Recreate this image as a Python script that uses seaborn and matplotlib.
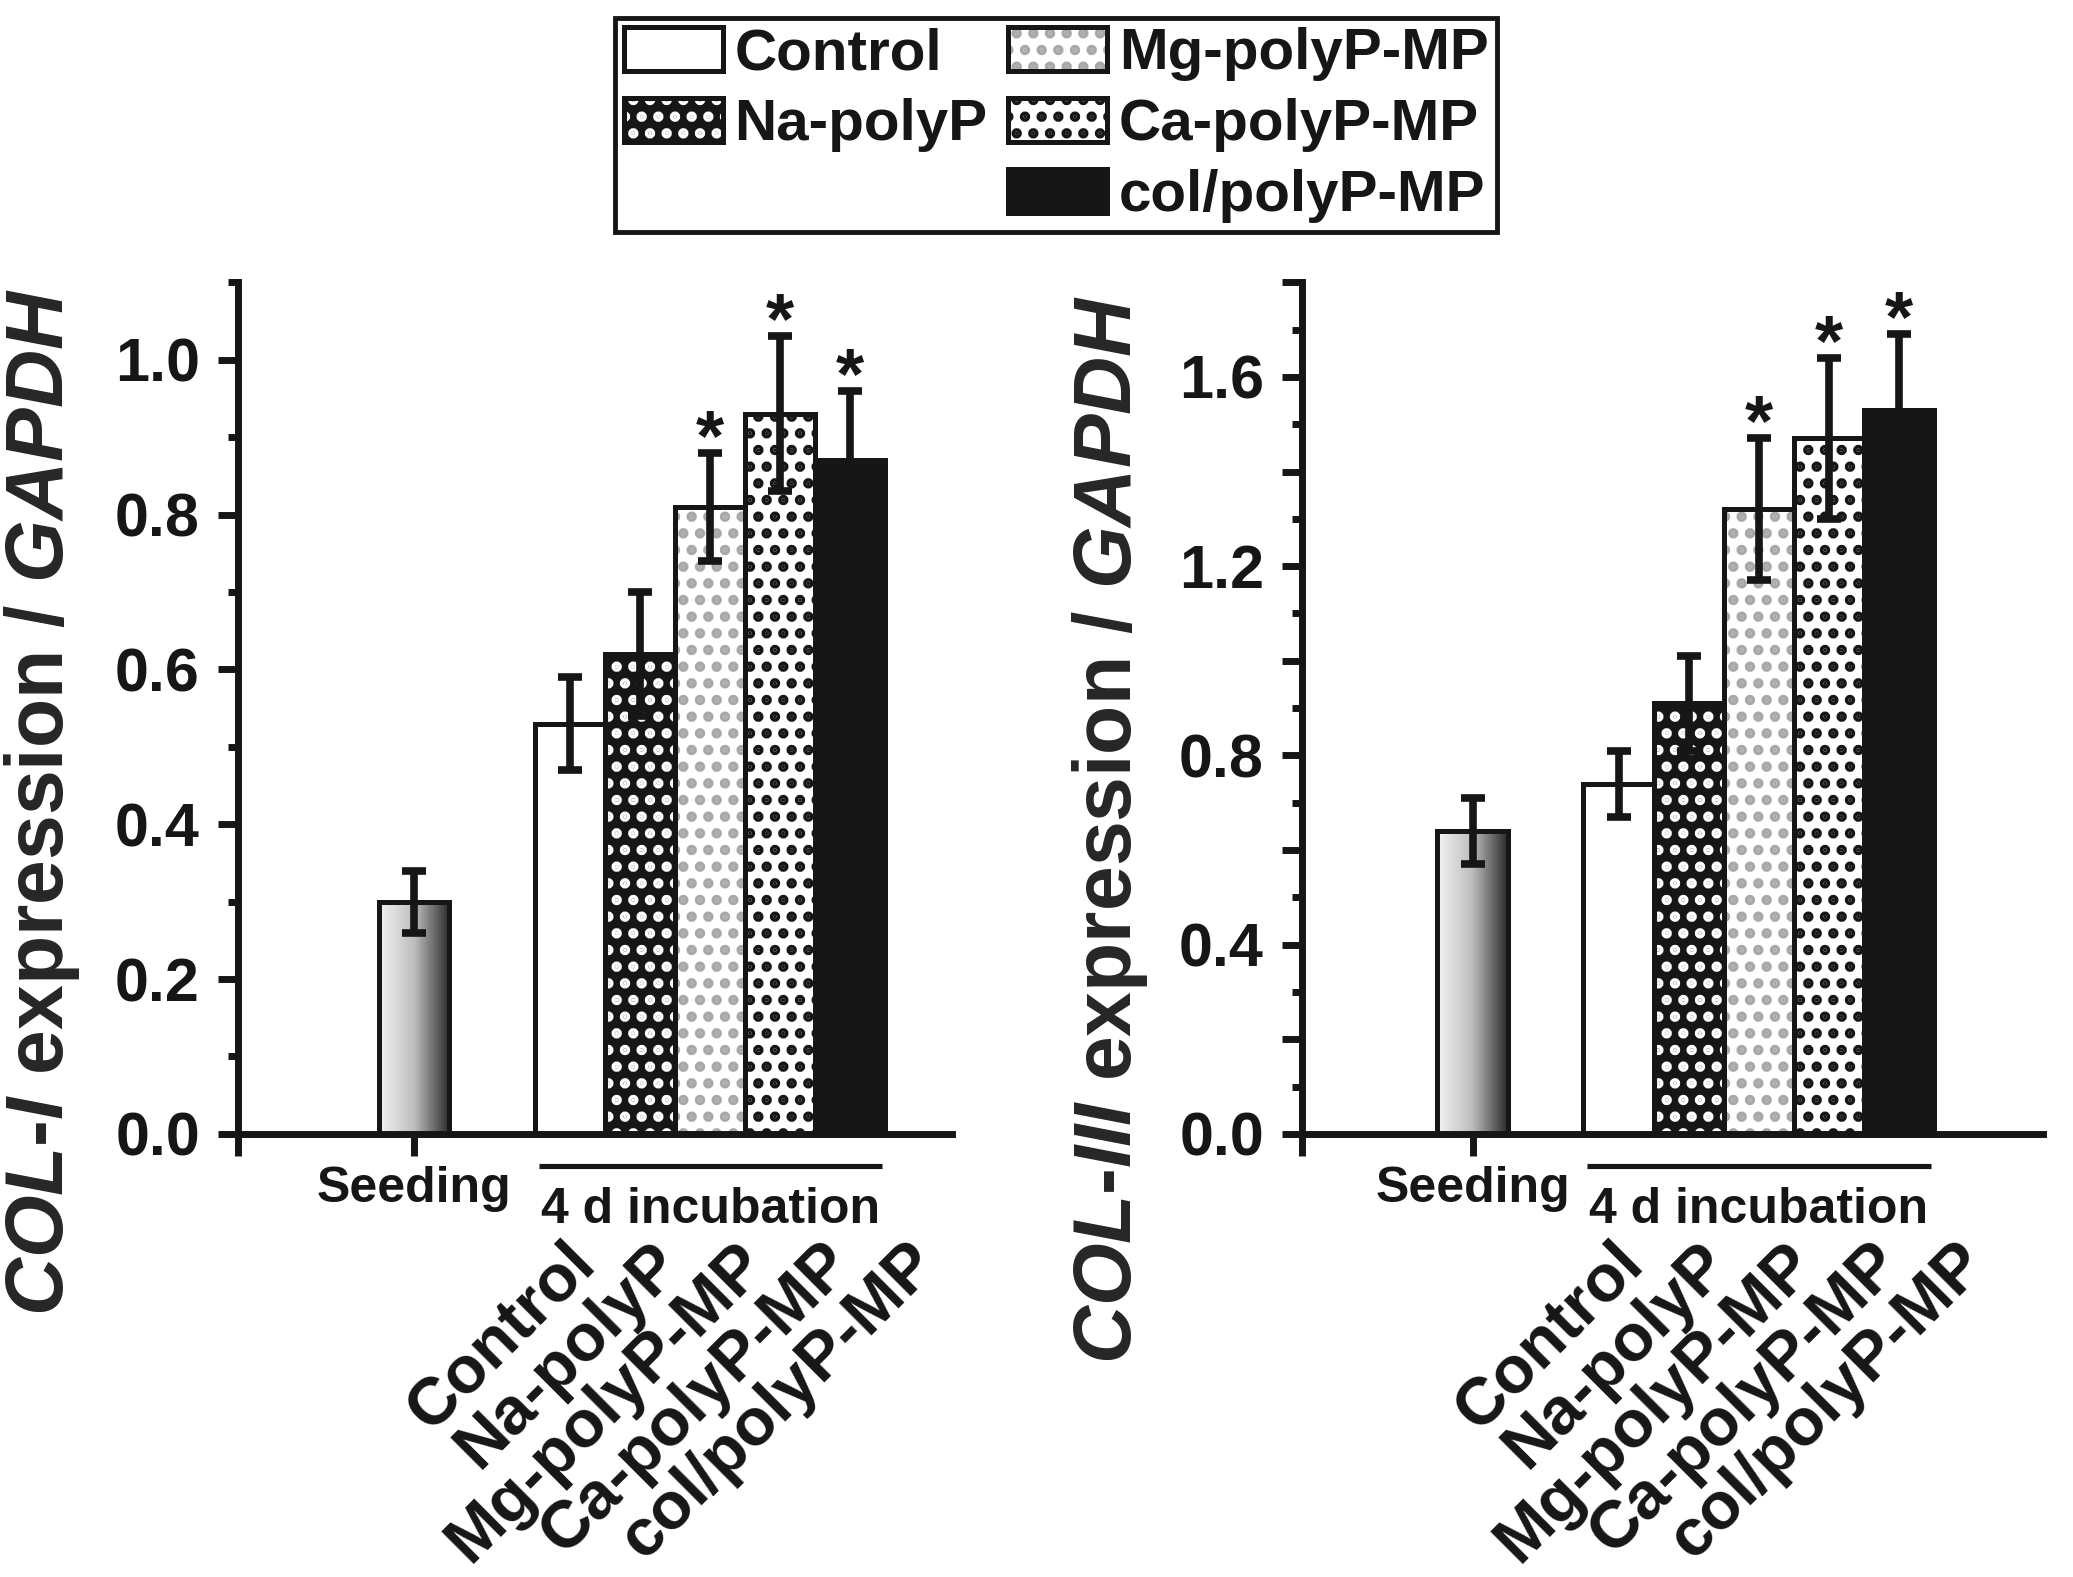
import numpy as np
import pandas as pd
import matplotlib
matplotlib.use("Agg")
import matplotlib.pyplot as plt
import matplotlib.patches as mpatches
import seaborn as sns
from matplotlib.colors import LinearSegmentedColormap
from matplotlib.legend_handler import HandlerTuple
from matplotlib.ticker import MultipleLocator, FuncFormatter

# data
groups = ["Seeding", "Control", "Na-polyP", "Mg-polyP-MP", "Ca-polyP-MP", "col/polyP-MP"]
col1_mean = [0.30, 0.53, 0.62, 0.81, 0.93, 0.87]
col1_err = [0.04, 0.06, 0.08, 0.07, 0.10, 0.09]
col3_mean = [0.64, 0.74, 0.91, 1.32, 1.47, 1.53]
col3_err = [0.07, 0.07, 0.10, 0.15, 0.17, 0.16]
col1_sig = [False, False, False, True, True, True]
col3_sig = [False, False, False, True, True, True]

BLACK = "#161616"
GREY_DOT = "#a8a8a8"

sns.set_theme(style="ticks")
plt.rcParams.update({
    "font.family": ["Liberation Sans", "DejaVu Sans"],
    "font.weight": "bold",
    "axes.labelweight": "bold",
    "mathtext.fontset": "custom",
    "mathtext.rm": "Liberation Sans:bold",
    "mathtext.bf": "Liberation Sans:bold",
    "mathtext.it": "Liberation Sans:italic:bold",
    "hatch.linewidth": 5.0,
    "text.color": BLACK,
    "axes.edgecolor": BLACK,
    "xtick.color": BLACK,
    "ytick.color": BLACK,
})

# fill style per bar: (facecolor, hatch colour, hatch)
styles = [
    (None, None, None),            # seeding -> gradient
    ("white", "white", None),
    (BLACK, "white", "."),
    ("white", GREY_DOT, "."),
    ("white", BLACK, "."),
    (BLACK, BLACK, None),
]
grad_cmap = LinearSegmentedColormap.from_list("seed", ["#f4f4f4", "#bdbdbd", "#2a2a2a"])


def draw_panel(ax, means, errs, sig, gap, xlim, ymax, ylabel, label_step, ylab_pos):
    pos = [0.0] + [gap + i for i in range(5)]
    df = pd.DataFrame({"pos": pos, "val": means})
    sns.barplot(data=df, x="pos", y="val", native_scale=True, width=1.0,
                color="white", linewidth=0, errorbar=None, ax=ax, zorder=1)
    bars = list(ax.patches)
    for i, p in enumerate(bars):
        fc, hc, hatch = styles[i]
        x0, w, h = p.get_x(), p.get_width(), p.get_height()
        if i == 0:
            p.set_facecolor("none")
            im = ax.imshow(np.linspace(0, 1, 256).reshape(1, -1), cmap=grad_cmap,
                           extent=[x0, x0 + w, 0, h], aspect="auto", origin="lower",
                           zorder=0.9)
            im.set_clip_path(p)
        else:
            p.set_facecolor(fc)
            p.set_edgecolor(hc)
            p.set_linewidth(0)
            if hatch:
                p.set_hatch(hatch)
        ax.add_patch(mpatches.Rectangle((x0, 0), w, h, fill=False, ec=BLACK,
                                        lw=3.6, zorder=2, joinstyle="miter"))

    ax.errorbar(pos, means, yerr=errs, fmt="none", ecolor=BLACK, elinewidth=5.5,
                capsize=8.5, capthick=5.5, zorder=3)
    for i, s in enumerate(sig):
        if s:
            ax.annotate("*", xy=(pos[i], means[i] + errs[i]), xytext=(0, -5),
                        textcoords="offset points", ha="center", va="baseline",
                        fontsize=52, fontweight="bold", annotation_clip=False)

    ax.set_xlim(*xlim)
    ax.set_ylim(0, ymax)
    sns.despine(ax=ax)
    for sp in ("left", "bottom"):
        ax.spines[sp].set_linewidth(5)

    ax.set_xticks([xlim[0], 0.0])
    ax.set_xticklabels(["", groups[0]])
    ax.tick_params(axis="x", length=16, width=5, pad=7, labelsize=36)
    ax.set_xlabel("")

    ax.yaxis.set_major_locator(MultipleLocator(0.2))
    ax.yaxis.set_minor_locator(MultipleLocator(0.1))
    ax.yaxis.set_major_formatter(FuncFormatter(
        lambda v, _: f"{v:.1f}" if abs(v / label_step - round(v / label_step)) < 1e-6 else ""))
    ax.tick_params(axis="y", which="major", length=14.4, width=5, pad=13, labelsize=44)
    ax.tick_params(axis="y", which="minor", length=7.2, width=5)
    ax.set_ylabel(ylabel, fontsize=58, fontweight="bold")
    ax.yaxis.set_label_coords(*ylab_pos)

    trans = ax.get_xaxis_transform()
    ax.plot([gap - 0.45, gap + 4.45], [-0.0376, -0.0376], transform=trans,
            clip_on=False, color=BLACK, lw=3.7, solid_capstyle="butt")
    ax.text(gap + 2, -0.089, "4 d incubation", transform=trans, ha="center",
            va="center", fontsize=36)
    for i, name in enumerate(groups[1:]):
        ax.text(gap - 0.1 + 1.22 * i, -0.115, name, transform=trans, rotation=45,
                rotation_mode="anchor", ha="right", va="top", fontsize=48)


fig = plt.figure(figsize=(20.73, 15.77), dpi=100)
ax1 = fig.add_axes([0.1148, 0.281, 0.3444, 0.540])
ax2 = fig.add_axes([0.6281, 0.281, 0.3575, 0.540])

draw_panel(ax1, col1_mean, col1_err, col1_sig, 2.23, (-2.51, 7.68), 1.1,
           r"$\mathit{COL}$-$\mathit{I}$ expression / $\mathit{GAPDH}$", 0.2, (-0.218, 0.389))
draw_panel(ax2, col3_mean, col3_err, col3_sig, 2.08, (-2.43, 8.13), 1.8,
           r"$\mathit{COL}$-$\mathit{III}$ expression / $\mathit{GAPDH}$", 0.4, (-0.205, 0.358))

# legend: two columns, first one has an empty slot at the bottom
handles, labels = [], []
for i, name in enumerate(groups[1:], start=1):
    fc, hc, hatch = styles[i]
    fill = mpatches.Patch(facecolor=fc, edgecolor=hc, hatch=hatch, lw=0)
    edge = mpatches.Patch(facecolor="none", edgecolor=BLACK, lw=3.6)
    handles.append((fill, edge))
    labels.append(name)
blank = mpatches.Patch(facecolor="none", edgecolor="none")
handles = handles[:2] + [blank] + handles[2:]
labels = labels[:2] + [""] + labels[2:]
leg = fig.legend(handles, labels, ncol=2, loc="upper center",
                 bbox_to_anchor=(0.5094, 0.9886), borderaxespad=0, fontsize=42,
                 frameon=True, fancybox=False, framealpha=1, edgecolor=BLACK,
                 handlelength=1.7, handleheight=0.8, handletextpad=0.2,
                 columnspacing=0.35, labelspacing=0.28, borderpad=0.15,
                 handler_map={tuple: HandlerTuple(ndivide=1)})
leg.get_frame().set_linewidth(3.5)

fig.savefig("out.png", dpi=100)
